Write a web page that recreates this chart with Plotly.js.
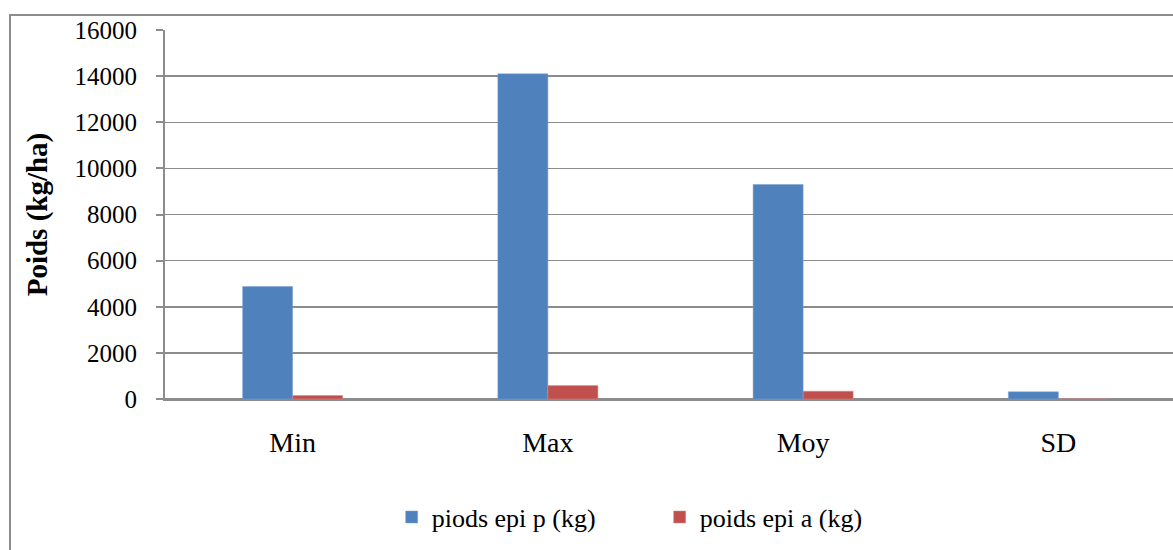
<!DOCTYPE html>
<html>
<head>
<meta charset="utf-8">
<script src="https://cdn.plot.ly/plotly-3.0.1.min.js"></script>
<style>
  html, body { margin: 0; padding: 0; background: #fff; overflow: hidden; width: 1173px; height: 550px; }
  #frame { position: absolute; left: 9px; top: 14px; width: 1300px; height: 700px; border: 2px solid #8c8c8c; box-sizing: border-box; }
  #chart { position: absolute; left: 0; top: 0; width: 1200px; height: 560px; }
</style>
</head>
<body>
<div id="frame"></div>
<div id="chart"></div>
<script>
const categories = ["Min", "Max", "Moy", "SD"];
const seriesNames = ["piods epi p (kg)", "poids epi a (kg)"];
const seriesP = [4880, 14100, 9300, 310];
const seriesA = [150, 580, 340, 5];
const yTicks = [0, 2000, 4000, 6000, 8000, 10000, 12000, 14000, 16000];

const font = "Liberation Serif, Times New Roman, serif";

const traces = [
  { type: "bar", name: seriesNames[0], x: categories, y: seriesP,
    marker: { color: "#4F81BD", line: { color: "#7da2d3", width: 0.5 } } },
  { type: "bar", name: seriesNames[1], x: categories, y: seriesA,
    marker: { color: "#C0504D", line: { color: "#d98b89", width: 0.5 } } }
];

const layout = {
  width: 1200, height: 560,
  paper_bgcolor: "rgba(0,0,0,0)", plot_bgcolor: "rgba(0,0,0,0)",
  margin: { l: 165, r: 14, t: 30, b: 161 },
  barmode: "group", bargap: 0.608, bargroupgap: 0,
  font: { family: font, size: 25, color: "#000" },
  showlegend: true,
  legend: { orientation: "h", x: 0.222, xanchor: "left", y: -0.32, yanchor: "middle",
            font: { family: font, size: 26, color: "#000" },
            entrywidth: 223, entrywidthmode: "pixels", itemwidth: 30, bgcolor: "rgba(0,0,0,0)" },
  xaxis: { type: "category", showgrid: false, showline: true, linecolor: "#8c8c8c", linewidth: 2,
           ticks: "", ticklabelstandoff: 17, tickfont: { family: font, size: 28, color: "#000" }, fixedrange: true },
  yaxis: { range: [0, 16000], tickvals: yTicks, ticktext: yTicks.map(String),
           showgrid: true, gridcolor: "#8c8c8c", gridwidth: 1.5,
           zeroline: true, zerolinecolor: "#8c8c8c", zerolinewidth: 2,
           showline: true, linecolor: "#8c8c8c", linewidth: 2,
           ticks: "outside", ticklen: 7, tickcolor: "#8c8c8c", tickwidth: 2,
           ticklabelstandoff: 14, tickfont: { family: font, size: 25, color: "#000" },
           title: { text: "<b>Poids (kg/ha)</b>", font: { family: font, size: 29, color: "#000" }, standoff: 18 },
           fixedrange: true }
};

Plotly.newPlot("chart", traces, layout, { displayModeBar: false, staticPlot: true });
</script>
</body>
</html>
